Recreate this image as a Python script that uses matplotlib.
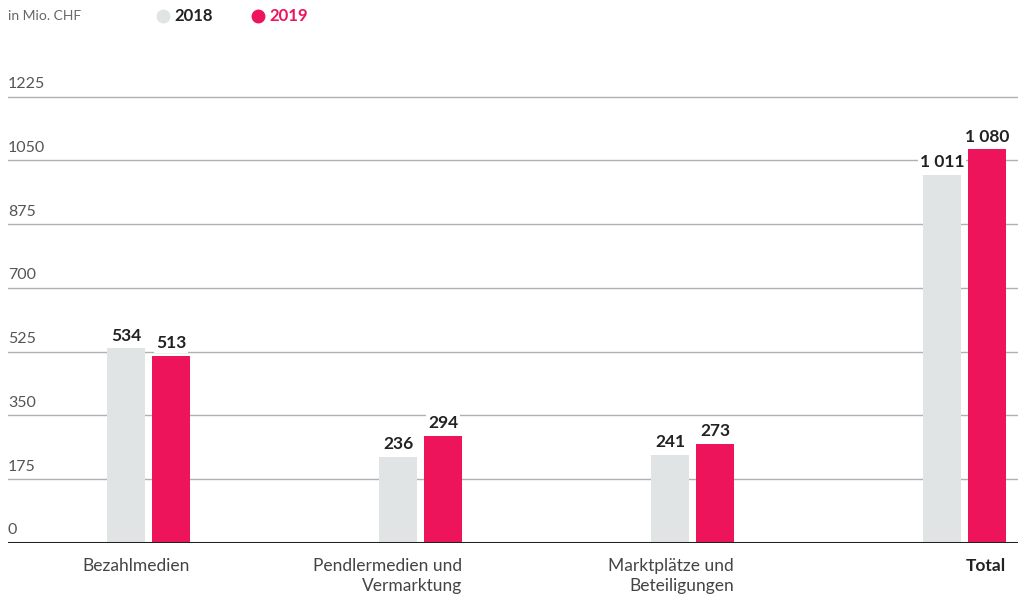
import matplotlib.pyplot as plt
from matplotlib.lines import Line2D
from matplotlib.transforms import blended_transform_factory

plt.rcParams['font.family'] = ['Lato', 'DejaVu Sans']

# Daten
kategorien = ['Bezahlmedien', 'Pendlermedien und\nVermarktung',
              'Marktplätze und\nBeteiligungen', 'Total']
werte_2018 = [534, 236, 241, 1011]
werte_2019 = [513, 294, 273, 1080]
labels_2018 = ['534', '236', '241', '1 011']
labels_2019 = ['513', '294', '273', '1 080']
y_ticks = [0, 175, 350, 525, 700, 875, 1050, 1225]

grau = '#e1e4e5'
rot = '#ed145b'
dunkel = '#222222'

W, H = 1018, 599
fig = plt.figure(figsize=(W / 100, H / 100), dpi=100)
ax = fig.add_axes([8 / W, (H - 543) / H, 1010 / W, (543 - 94) / H])

breite = 38 / 272
versatz = 22.5 / 272
x = list(range(len(kategorien)))

ax.set_xlim((8 - 148.5) / 272, (1018 - 148.5) / 272)
ax.set_ylim(0, 1232)

for y in y_ticks[1:]:
    ax.axhline(y, color='#b0b0b0', lw=1, zorder=0)
ax.axhline(0, color=dunkel, lw=2.2, zorder=3)

b1 = ax.bar([i - versatz for i in x], werte_2018, breite, color=grau, zorder=2)
b2 = ax.bar([i + versatz for i in x], werte_2019, breite, color=rot, zorder=2)

for bars, labs in ((b1, labels_2018), (b2, labels_2019)):
    for b, lab in zip(bars, labs):
        ax.annotate(lab, (b.get_x() + b.get_width() / 2, b.get_height()),
                    xytext=(0, 3.5), textcoords='offset points',
                    ha='center', va='bottom', fontsize=12.5, fontweight='bold',
                    color=dunkel, zorder=4,
                    bbox=dict(facecolor='white', edgecolor='none', pad=1.5))

# y-Achsenbeschriftung über den Linien
trans = blended_transform_factory(ax.transAxes, ax.transData)
for y in y_ticks:
    ax.annotate(str(y), (0, y), xycoords=trans, xytext=(0, 4),
                textcoords='offset points', ha='left', va='bottom',
                fontsize=11.5, color='#555555')

# Kategorien, rechtsbündig an der Gruppe
for i, k in enumerate(kategorien):
    fett = k == 'Total'
    ax.annotate(k, (i + versatz + breite / 2, 0), xytext=(0, -11),
                textcoords='offset points', ha='right', va='top',
                multialignment='right', fontsize=12.5, linespacing=1.3,
                color=dunkel if fett else '#444444',
                fontweight='bold' if fett else 'normal',
                annotation_clip=False)

ax.axis('off')

# Kopfzeile mit Legende
fig.text(8 / W, 1 - 16 / H, 'in Mio. CHF', fontsize=10, color='#666666',
         ha='left', va='center')
fig.add_artist(Line2D([163 / W], [1 - 16 / H], marker='o', markersize=9,
                      color=grau, transform=fig.transFigure))
fig.text(174 / W, 1 - 16 / H, '2018', fontsize=12, fontweight='bold',
         color=dunkel, ha='left', va='center')
fig.add_artist(Line2D([258 / W], [1 - 16 / H], marker='o', markersize=9,
                      color=rot, transform=fig.transFigure))
fig.text(269 / W, 1 - 16 / H, '2019', fontsize=12, fontweight='bold',
         color=rot, ha='left', va='center')

fig.savefig('out.png', dpi=100)
